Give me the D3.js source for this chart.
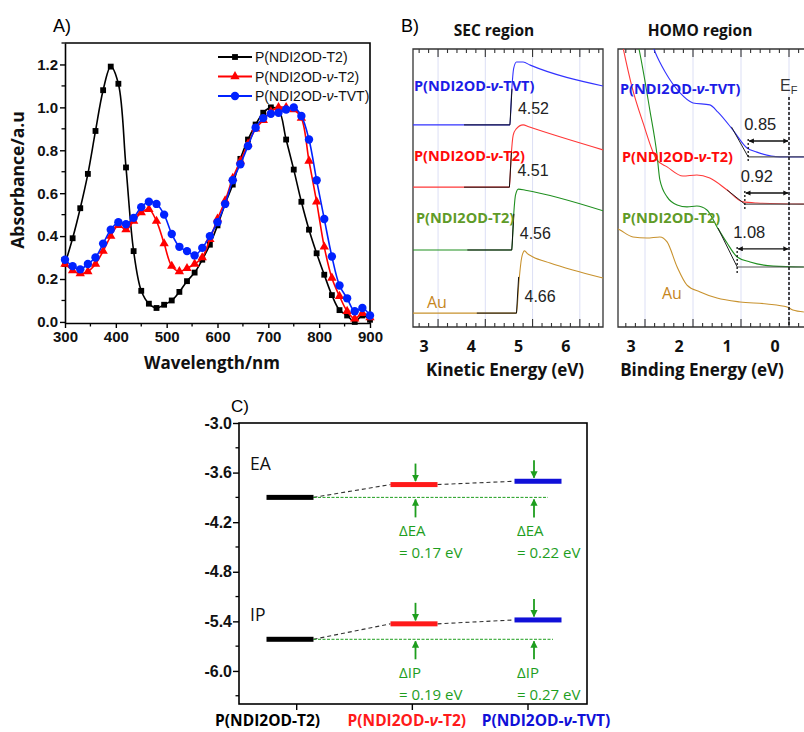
<!DOCTYPE html>
<html>
<head>
<meta charset="utf-8">
<script src="https://cdn.jsdelivr.net/npm/d3@7"></script>
<style>
  body { margin: 0; background: #fff; }
  svg { display: block; }
</style>
</head>
<body>
<svg id="fig" width="804" height="732"></svg>
<script>
const svg = d3.select("#fig");
const SANS = '"Open Sans", "Noto Sans", sans-serif';
const ARIAL = '"Liberation Sans", Arial, sans-serif';

// ---------------- data ----------------
// A) UV-vis absorption, one marker every 15 nm
const wavelength = [300, 315, 330, 345, 360, 375, 390, 405, 420, 435, 450, 465, 480, 495, 510, 525, 540,
  555, 570, 585, 600, 615, 630, 645, 660, 675, 690, 705, 720, 735, 750, 765, 780, 795, 810, 825, 840, 855,
  870, 885, 900];
const absT2 = [0.27, 0.39, 0.53, 0.69, 0.89, 1.08, 1.19, 1.11, 0.72, 0.33, 0.145, 0.085, 0.065, 0.08, 0.10,
  0.14, 0.19, 0.23, 0.29, 0.36, 0.45, 0.55, 0.64, 0.76, 0.85, 0.92, 0.975, 1.0, 0.99, 0.85, 0.71, 0.56, 0.43,
  0.32, 0.22, 0.125, 0.055, 0.03, 0.0, 0.03, 0.01];
const absVT2 = [0.27, 0.24, 0.225, 0.235, 0.27, 0.33, 0.40, 0.45, 0.43, 0.47, 0.51, 0.525, 0.47, 0.365, 0.26,
  0.235, 0.25, 0.27, 0.30, 0.385, 0.48, 0.565, 0.67, 0.75, 0.83, 0.90, 0.94, 0.98, 1.0, 1.0, 0.99, 0.95, 0.75,
  0.56, 0.35, 0.205, 0.12, 0.05, 0.015, 0.04, 0.02];
const absVTVT = [0.29, 0.26, 0.245, 0.27, 0.30, 0.365, 0.43, 0.465, 0.455, 0.485, 0.535, 0.56, 0.55, 0.50, 0.41,
  0.35, 0.33, 0.31, 0.345, 0.40, 0.465, 0.55, 0.66, 0.735, 0.82, 0.905, 0.95, 0.97, 0.975, 0.99, 1.0, 0.96, 0.85,
  0.66, 0.48, 0.305, 0.17, 0.11, 0.05, 0.065, 0.03];
const polymers = ["P(NDI2OD-T2)", "P(NDI2OD-ν-T2)", "P(NDI2OD-ν-TVT)"];

// B) UPS, [energy (eV), intensity (a.u.)]
const secTVT = [[2.47, 7.27], [4.52, 7.27], [4.555, 8.4], [4.60, 9.3], [4.66, 9.53], [4.80, 9.53], [4.95, 9.42], [6.49, 8.67]];
const secVT2 = [[2.47, 5.03], [4.51, 5.03], [4.545, 6.1], [4.59, 6.9], [4.65, 7.12], [4.80, 7.27], [4.92, 7.2], [6.49, 6.37]];
const secT2 = [[2.47, 2.77], [4.56, 2.77], [4.595, 3.9], [4.64, 4.75], [4.70, 4.96], [4.85, 4.92], [6.49, 4.18]];
const secAu = [[2.47, 0.5], [4.66, 0.5], [4.71, 1.6], [4.77, 2.5], [4.83, 2.74], [4.89, 2.64], [5.0, 2.53], [5.37, 2.3], [5.85, 2.05], [6.49, 1.76]];
const workFunction = [4.52, 4.51, 4.56, 4.66];
const secFitStart = [3.55, 3.55, 3.62, 3.82];

const homoTVT = [[2.90, 10.4], [2.79, 9.89], [2.58, 9.17], [2.27, 8.42], [2.0, 8.06], [1.65, 7.99], [1.48, 7.73],
  [1.17, 7.09], [0.875, 6.44], [0.67, 6.29], [0.19, 6.12], [-0.31, 6.12]];
const homoVT2 = [[3.50, 10.4], [3.46, 10.07], [3.27, 8.63], [3.04, 7.34], [2.75, 6.0], [2.54, 5.76], [2.21, 5.43],
  [1.92, 5.47], [1.65, 5.36], [1.29, 4.93], [0.96, 4.50], [0.67, 4.46], [-0.31, 4.42]];
const homoT2 = [[3.15, 10.2], [3.125, 10.0], [2.90, 7.81], [2.75, 6.2], [2.69, 5.29], [2.54, 4.68], [2.33, 4.39],
  [2.125, 4.32], [1.92, 4.35], [1.71, 4.21], [1.5, 3.60], [1.29, 3.02], [1.08, 2.52], [0.81, 2.34], [0.33, 2.19], [-0.31, 2.16]];
const homoAu = [[3.5625, 3.53], [3.52, 3.49], [3.25, 3.24], [2.96, 3.20], [2.69, 3.24], [2.54, 3.06], [2.33, 2.16],
  [2.125, 1.51], [1.85, 1.26], [1.5, 1.04], [1.02, 0.90], [0.46, 0.83], [0.04, 0.72], [-0.08, 0.61], [-0.31, 0.54]];
const homoOnset = [0.85, 0.92, 1.08];
const homoBase = [6.12, 4.42, 2.16];
const homoFitTop = [[1.20, 7.2], [1.29, 4.93], [1.48, 3.56]];

// C) energy levels (eV)
const eaLevel = [-3.90, -3.745, -3.705];
const ipLevel = [-5.617, -5.43, -5.383];
const deltaEA = ["0.17", "0.22"];
const deltaIP = ["0.19", "0.27"];

// ---------------- helpers ----------------
function addName(t, name) {
  name.split("ν").forEach((part, i) => {
    if (i > 0) t.append("tspan").attr("font-style", "italic").text("ν");
    t.append("tspan").text(part);
  });
  return t;
}

const defs = svg.append("defs");
function arrowHead(id, color) {
  defs.append("marker").attr("id", id)
    .attr("viewBox", "0 0 10 10").attr("refX", 9).attr("refY", 5)
    .attr("markerWidth", 4).attr("markerHeight", 4)
    .attr("orient", "auto-start-reverse")
    .append("path").attr("d", "M0,0L10,5L0,10z").attr("fill", color);
}
arrowHead("ahG", "#1e9e1e");
arrowHead("ahK", "#111");

// ================= A) =================
const xA = d3.scaleLinear().domain([300, 900]).range([65, 370]);
const yA = d3.scaleLinear().domain([-0.005, 1.3]).range([323, 43]);
const gA = svg.append("g");

gA.append("text").attr("x", 53).attr("y", 32).attr("font-family", ARIAL).attr("font-size", 18).text("A)");

const axA = gA.append("g").attr("transform", "translate(0,323)")
  .call(d3.axisBottom(xA).tickValues(xA.ticks(7)).tickSize(5).tickSizeOuter(0).tickPadding(3).tickFormat(d3.format("d")));
const ayA = gA.append("g").attr("transform", "translate(65,0)")
  .call(d3.axisLeft(yA).tickValues(yA.ticks(7)).tickSize(5).tickSizeOuter(0).tickPadding(2).tickFormat(d3.format(".1f")));
[axA, ayA].forEach(a => {
  a.select(".domain").attr("stroke-width", 1.6);
  a.selectAll(".tick line").attr("stroke-width", 1.4);
  a.selectAll("text").attr("font-family", ARIAL).attr("font-weight", "bold").attr("font-size", 15).attr("fill", "#111");
});
gA.selectAll(".mxA").data(xA.ticks(12).filter(d => d % 100 !== 0)).join("line")
  .attr("x1", d => xA(d)).attr("x2", d => xA(d)).attr("y1", 323).attr("y2", 326.5)
  .attr("stroke", "#000").attr("stroke-width", 1.3);
gA.selectAll(".myA").data(yA.ticks(14).filter(d => Math.round(d * 10) % 2 === 1)).join("line")
  .attr("x1", 65).attr("x2", 61.5).attr("y1", d => yA(d)).attr("y2", d => yA(d))
  .attr("stroke", "#000").attr("stroke-width", 1.3);
gA.append("path").attr("d", `M65,43H370V323`).attr("fill", "none").attr("stroke", "#000").attr("stroke-width", 1.6);

const specColors = ["#000000", "#ff0000", "#0022ff"];
const specData = [absT2, absVT2, absVTVT];
const specSymbols = [d3.symbol(d3.symbolSquare, 34), d3.symbol(d3.symbolTriangle, 38), null];
const lineA = d3.line().x((d, i) => xA(wavelength[i])).y(d => yA(d)).curve(d3.curveCatmullRom.alpha(0.5));

function drawMarkers(g, k, pts) {
  if (k === 2) {
    g.selectAll(null).data(pts).join("circle")
      .attr("cx", d => d[0]).attr("cy", d => d[1]).attr("r", 4.2).attr("fill", specColors[k]);
  } else {
    g.selectAll(null).data(pts).join("path")
      .attr("transform", d => `translate(${d[0]},${d[1]})`)
      .attr("d", specSymbols[k]).attr("fill", specColors[k]);
  }
}

specData.forEach((vals, k) => {
  const g = gA.append("g");
  g.append("path").attr("d", lineA(vals)).attr("fill", "none")
    .attr("stroke", specColors[k]).attr("stroke-width", 1.6);
  drawMarkers(g, k, vals.map((v, i) => [xA(wavelength[i]), yA(v)]));
});

// legend
polymers.forEach((name, k) => {
  const y = 57 + k * 19.5;
  const g = gA.append("g");
  g.append("line").attr("x1", 218).attr("x2", 252).attr("y1", y).attr("y2", y)
    .attr("stroke", specColors[k]).attr("stroke-width", 1.8);
  drawMarkers(g, k, [[235, y]]);
  addName(g.append("text").attr("x", 255).attr("y", y + 5)
    .attr("font-family", ARIAL).attr("font-size", 14).attr("fill", "#111"), name);
});

gA.append("text").attr("transform", "translate(24,180) rotate(-90)").attr("text-anchor", "middle")
  .attr("font-family", SANS).attr("font-weight", "bold").attr("font-size", 17.5).attr("fill", "#111")
  .text("Absorbance/a.u");
gA.append("text").attr("x", 212).attr("y", 369).attr("text-anchor", "middle")
  .attr("font-family", SANS).attr("font-weight", "bold").attr("font-size", 17).attr("fill", "#111")
  .text("Wavelength/nm");

// ================= B) =================
const yU = d3.scaleLinear().domain([0, 10]).range([327, 49]);
const xS = d3.scaleLinear().domain([2.47, 6.49]).range([413, 603]);
const xH = d3.scaleLinear().domain([3.5625, -0.3125]).range([618, 804]);

const upsLine = ["#3333ff", "#ff3838", "#1f8f1f", "#c8922e"];
const upsText = ["#1c1ce6", "#ff0a0a", "#5f9b28", "#c6861c"];
const upsNames = [polymers[2], polymers[1], polymers[0], "Au"];

svg.append("text").attr("x", 401).attr("y", 32).attr("font-family", ARIAL).attr("font-size", 18).text("B)");

defs.append("clipPath").attr("id", "clipS").append("rect").attr("x", 413).attr("y", 49).attr("width", 190).attr("height", 278);
defs.append("clipPath").attr("id", "clipH").append("rect").attr("x", 618).attr("y", 49).attr("width", 190).attr("height", 278);

function upsFrame(g, x, majors, minors, right) {
  const x0 = x.range()[0], x1 = x.range()[1];
  g.selectAll(".grid").data(majors).join("line")
    .attr("x1", d => x(d)).attr("x2", d => x(d)).attr("y1", 49).attr("y2", 327)
    .attr("stroke", "#dcdff5").attr("stroke-width", 1);
  [[49, 1], [327, -1]].forEach(([y0, dir]) => {
    g.selectAll(null).data(minors).join("line")
      .attr("x1", d => x(d)).attr("x2", d => x(d)).attr("y1", y0)
      .attr("y2", d => y0 + dir * (majors.some(m => Math.abs(m - d) < 1e-6) ? 8 : 4))
      .attr("stroke", "#333").attr("stroke-width", 1.1);
  });
  g.append("path").attr("d", right ? `M${x1},49H${x0}V327H${x1}Z` : `M${x1 + 2},49H${x0}V327H${x1 + 2}`)
    .attr("fill", "none").attr("stroke", "#333").attr("stroke-width", 1.3);
  g.selectAll(null).data(majors).join("text")
    .attr("x", d => x(d) - 14).attr("y", 352).attr("text-anchor", "middle")
    .attr("font-family", SANS).attr("font-weight", "bold").attr("font-size", 16).attr("fill", "#111")
    .text(d => d3.format("d")(d));
}

// SEC region
const gS = svg.append("g");
gS.append("text").attr("x", 494).attr("y", 36).attr("text-anchor", "middle")
  .attr("font-family", SANS).attr("font-weight", "bold").attr("font-size", 15.5).attr("fill", "#111").text("SEC region");
upsFrame(gS, xS, [3, 4, 5, 6], d3.range(13, 33).map(k => k / 5), true);
const lineU = (x) => d3.line().x(d => x(d[0])).y(d => yU(d[1])).curve(d3.curveMonotoneX);
const gSc = gS.append("g").attr("clip-path", "url(#clipS)");
[secTVT, secVT2, secT2, secAu].forEach((c, k) => {
  gSc.append("path").attr("d", lineU(xS)(c)).attr("fill", "none").attr("stroke", upsLine[k]).attr("stroke-width", 1.1);
  const base = c[0][1];
  const wf = workFunction[k];
  gSc.append("path").attr("d", d3.line().x(d => xS(d[0])).y(d => yU(d[1]))([[secFitStart[k], base], [wf, base], [wf + 0.045, base + 1.3]]))
    .attr("fill", "none").attr("stroke", "#111").attr("stroke-width", 1);
  gS.append("text").attr("x", xS(wf) + 8).attr("y", yU(base) - 11)
    .attr("font-family", ARIAL).attr("font-size", 16).attr("fill", "#222").text(d3.format(".2f")(wf));
});
[[414, 91], [414, 161], [416, 223], [427, 308]].forEach(([x, y], k) => {
  addName(gS.append("text").attr("x", x).attr("y", y)
    .attr("font-family", SANS).attr("font-weight", k < 3 ? "bold" : "normal").attr("font-size", k < 3 ? 14.5 : 16)
    .attr("fill", upsText[k]), upsNames[k]);
});
gS.append("text").attr("x", 505).attr("y", 376).attr("text-anchor", "middle")
  .attr("font-family", SANS).attr("font-weight", "bold").attr("font-size", 17).attr("fill", "#111").text("Kinetic Energy (eV)");

// HOMO region
const gH = svg.append("g");
gH.append("text").attr("x", 700).attr("y", 36).attr("text-anchor", "middle")
  .attr("font-family", SANS).attr("font-weight", "bold").attr("font-size", 15.5).attr("fill", "#111").text("HOMO region");
upsFrame(gH, xH, [3, 2, 1, 0], d3.range(-1, 18).map(k => k / 5), false);
const gHc = gH.append("g").attr("clip-path", "url(#clipH)");
[homoTVT, homoVT2, homoT2, homoAu].forEach((c, k) => {
  gHc.append("path").attr("d", lineU(xH)(c)).attr("fill", "none").attr("stroke", upsLine[k]).attr("stroke-width", 1.1);
});
// Fermi level
gH.append("line").attr("x1", xH(0)).attr("x2", xH(0)).attr("y1", 97).attr("y2", 327)
  .attr("stroke", "#111").attr("stroke-width", 1.5).attr("stroke-dasharray", "3,2");
const ef = gH.append("text").attr("x", xH(0) - 9).attr("y", 91).attr("font-family", ARIAL).attr("font-size", 16).attr("fill", "#333");
ef.append("tspan").text("E");
ef.append("tspan").attr("font-size", 11).attr("dy", 3).text("F");

const arrowLevel = [6.69, 4.82, 2.81];
homoOnset.forEach((on, k) => {
  const base = homoBase[k];
  gHc.append("path").attr("d", d3.line().x(d => xH(d[0])).y(d => yU(d[1]))([homoFitTop[k], [on, base]]))
    .attr("fill", "none").attr("stroke", "#222").attr("stroke-width", 1);
  gHc.append("line").attr("x1", xH(on)).attr("x2", 804).attr("y1", yU(base)).attr("y2", yU(base))
    .attr("stroke", "#555").attr("stroke-width", 1.1);
  gH.append("line").attr("x1", xH(on)).attr("x2", xH(on))
    .attr("y1", yU(arrowLevel[k]) - 2).attr("y2", yU(base) + 6)
    .attr("stroke", "#111").attr("stroke-width", 1.3).attr("stroke-dasharray", "2,2");
  gH.append("line").attr("x1", xH(on) + 1).attr("x2", xH(0) - 1)
    .attr("y1", yU(arrowLevel[k])).attr("y2", yU(arrowLevel[k]))
    .attr("stroke", "#111").attr("stroke-width", 1.3)
    .attr("marker-start", "url(#ahK)").attr("marker-end", "url(#ahK)");
  gH.append("text").attr("x", xH(on) - 4).attr("y", yU(arrowLevel[k]) - 11)
    .attr("font-family", ARIAL).attr("font-size", 16.5).attr("fill", "#222").text(d3.format(".2f")(on));
});
[[620, 94], [622, 162], [622, 223], [662, 299]].forEach(([x, y], k) => {
  addName(gH.append("text").attr("x", x).attr("y", y)
    .attr("font-family", SANS).attr("font-weight", k < 3 ? "bold" : "normal").attr("font-size", k < 3 ? 14.5 : 16)
    .attr("fill", upsText[k]), upsNames[k]);
});
gH.append("text").attr("x", 702).attr("y", 376).attr("text-anchor", "middle")
  .attr("font-family", SANS).attr("font-weight", "bold").attr("font-size", 17).attr("fill", "#111").text("Binding Energy (eV)");

// ================= C) =================
const gC = svg.append("g");
const yC = d3.scaleLinear().domain([-6.4, -3.0]).range([704, 423]);
const xTick = d3.scalePoint().domain(polymers).range([296.7, 528]);
const xBar = d3.scalePoint().domain(polymers).range([290, 538]);
const xLab = d3.scalePoint().domain(polymers).range([267.6, 546]);
const levelColors = ["#000000", "#ff1a1a", "#1010d8"];
const GREEN = "#1e9e1e";

gC.append("text").attr("x", 231).attr("y", 412).attr("font-family", ARIAL).attr("font-size", 17).text("C)");
gC.append("rect").attr("x", 239).attr("y", 423).attr("width", 348).attr("height", 281)
  .attr("fill", "none").attr("stroke", "#000").attr("stroke-width", 1.6);
const ayC = gC.append("g").attr("transform", "translate(239,0)")
  .call(d3.axisLeft(yC).tickValues([-3.0, -3.6, -4.2, -4.8, -5.4, -6.0]).tickSize(6).tickSizeOuter(0).tickPadding(1)
    .tickFormat(d => d3.format(".1f")(d).replace("−", "-")));
ayC.select(".domain").remove();
ayC.selectAll(".tick line").attr("stroke-width", 1.4);
ayC.selectAll("text").attr("font-family", ARIAL).attr("font-weight", "bold").attr("font-size", 16).attr("fill", "#111");
gC.selectAll(".myC").data([-3.3, -3.9, -4.5, -5.1, -5.7, -6.3]).join("line")
  .attr("x1", 239).attr("x2", 235.5).attr("y1", d => yC(d)).attr("y2", d => yC(d))
  .attr("stroke", "#000").attr("stroke-width", 1.3);
gC.selectAll(".mxC").data(polymers).join("line")
  .attr("x1", d => xTick(d)).attr("x2", d => xTick(d)).attr("y1", 704).attr("y2", 710)
  .attr("stroke", "#000").attr("stroke-width", 1.4);
polymers.forEach((name, k) => {
  addName(gC.append("text").attr("x", xLab(name)).attr("y", 726).attr("text-anchor", "middle")
    .attr("font-family", SANS).attr("font-weight", "bold").attr("font-size", 15.5)
    .attr("fill", levelColors[k]), name);
});

const HALF = 23.5;
function levelSet(levels, deltas, label, labelY, greenEnd) {
  // dashed connectors
  for (let k = 0; k < 2; k++) {
    gC.append("line")
      .attr("x1", xBar(polymers[k]) + HALF).attr("y1", yC(levels[k]))
      .attr("x2", xBar(polymers[k + 1]) - HALF).attr("y2", yC(levels[k + 1]))
      .attr("stroke", "#333").attr("stroke-width", 1.1).attr("stroke-dasharray", "4,3");
  }
  const y0 = yC(levels[0]);
  gC.append("line").attr("x1", xBar(polymers[0]) + HALF).attr("x2", xBar(polymers[2]) + greenEnd)
    .attr("y1", y0).attr("y2", y0)
    .attr("stroke", GREEN).attr("stroke-width", 1).attr("stroke-dasharray", "3,1.5");
  gC.selectAll(null).data(polymers).join("rect")
    .attr("x", d => xBar(d) - HALF).attr("width", 2 * HALF)
    .attr("y", (d, i) => yC(levels[i]) - 2.5).attr("height", 5)
    .attr("fill", (d, i) => levelColors[i]);
  [1, 2].forEach(i => {
    const cx = xBar(polymers[i]) + (i === 1 ? 1.5 : -4);
    const yl = yC(levels[i]);
    gC.append("line").attr("x1", cx).attr("x2", cx).attr("y1", yl - 21).attr("y2", yl - 3.5)
      .attr("stroke", GREEN).attr("stroke-width", 1.8).attr("marker-end", "url(#ahG)");
    gC.append("line").attr("x1", cx).attr("x2", cx).attr("y1", y0 + 20).attr("y2", y0 + 2)
      .attr("stroke", GREEN).attr("stroke-width", 1.8).attr("marker-end", "url(#ahG)");
    const tx = xBar(polymers[i]) - (i === 1 ? 15 : 21);
    gC.append("text").attr("x", tx).attr("y", y0 + 39)
      .attr("font-family", SANS).attr("font-size", 15).attr("fill", GREEN).text("Δ" + label);
    gC.append("text").attr("x", tx).attr("y", y0 + 61)
      .attr("font-family", SANS).attr("font-size", 15).attr("fill", GREEN).text("= " + deltas[i - 1] + " eV");
  });
  gC.append("text").attr("x", 250).attr("y", labelY)
    .attr("font-family", SANS).attr("font-size", 17.5).attr("fill", "#111").text(label);
}
levelSet(eaLevel, deltaEA, "EA", 470, 10);
levelSet(ipLevel, deltaIP, "IP", 621, 15);
</script>
</body>
</html>
